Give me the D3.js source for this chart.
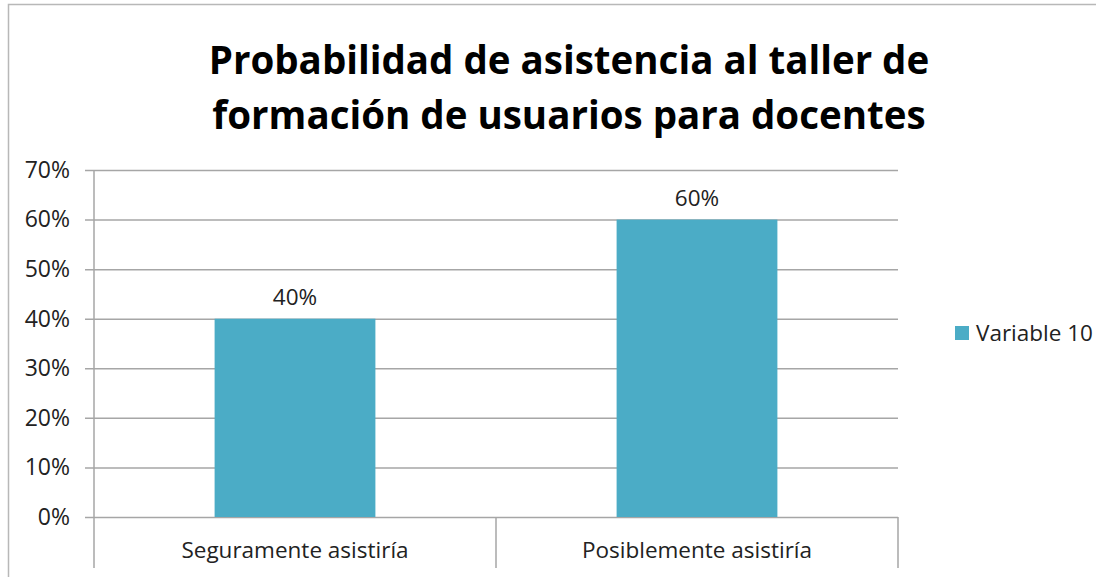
<!DOCTYPE html>
<html>
<head>
<meta charset="utf-8">
<script src="https://cdn.jsdelivr.net/npm/d3@7"></script>
<style>
  body { margin: 0; background: #fff; }
  text { font-family: "Open Sans", sans-serif; fill: #222; }
</style>
</head>
<body>
<div id="chart"></div>
<script>
var svgWidth = 1096;
var svgHeight = 577;

// data
var categories = ["Seguramente asistiría", "Posiblemente asistiría"];
var values = [0.40, 0.60];
var seriesName = "Variable 10";
var titleLines = ["Probabilidad de asistencia al taller de", "formación de usuarios para docentes"];
var yTicks = [0, 0.1, 0.2, 0.3, 0.4, 0.5, 0.6, 0.7];

var margin = { top: 170, left: 94, right: 198, bottom: 60 };
var width = svgWidth - margin.left - margin.right;
var height = 517 - margin.top;

var svg = d3.select("#chart")
  .append("svg")
  .attr("width", svgWidth)
  .attr("height", svgHeight);

// outer frame
svg.append("rect")
  .attr("x", 8.5)
  .attr("y", 4.5)
  .attr("width", 1200)
  .attr("height", 700)
  .attr("fill", "none")
  .attr("stroke", "#b8b8b8")
  .attr("stroke-width", 1.5);

// title
svg.selectAll(".title")
  .data(titleLines)
  .enter()
  .append("text")
  .attr("class", "title")
  .attr("x", 569)
  .attr("y", (d, i) => 74 + i * 55)
  .attr("text-anchor", "middle")
  .style("font-size", "38.5px")
  .style("font-weight", "bold")
  .style("fill", "#000")
  .text(d => d);

var chartGroup = svg.append("g")
  .attr("transform", `translate(${margin.left}, ${margin.top})`);

var xScale = d3.scaleBand()
  .domain(categories)
  .range([0, width])
  .paddingInner(0)
  .paddingOuter(0);

var yScale = d3.scaleLinear()
  .domain([0, 0.7])
  .range([height, 0]);

// gridlines with small ticks left of axis
var leftAxis = d3.axisLeft(yScale)
  .tickValues(yTicks)
  .tickFormat(d3.format(".0%"))
  .tickSize(-width - 9)
  .tickPadding(15);

var yAxisG = chartGroup.append("g")
  .attr("transform", "translate(-9, 0)")
  .call(leftAxis);
yAxisG.select(".domain").remove();
yAxisG.selectAll("line")
  .attr("stroke", "#a6a6a6")
  .attr("stroke-width", 1.5);
yAxisG.selectAll("text")
  .style("font-size", "23px")
  .style("font-family", "'Open Sans', sans-serif")
  .attr("fill", "#222");

// vertical axis line
chartGroup.append("line")
  .attr("x1", 0).attr("x2", 0)
  .attr("y1", 0).attr("y2", height + 51)
  .attr("stroke", "#a6a6a6")
  .attr("stroke-width", 1.5);

// category separators
chartGroup.selectAll(".sep")
  .data(categories)
  .enter()
  .append("line")
  .attr("class", "sep")
  .attr("x1", d => xScale(d) + xScale.bandwidth())
  .attr("x2", d => xScale(d) + xScale.bandwidth())
  .attr("y1", height)
  .attr("y2", height + 51)
  .attr("stroke", "#a6a6a6")
  .attr("stroke-width", 1.5);

// bars
var barW = xScale.bandwidth() * 0.4;
chartGroup.selectAll(".bar")
  .data(values)
  .enter()
  .append("rect")
  .attr("class", "bar")
  .attr("x", (d, i) => xScale(categories[i]) + (xScale.bandwidth() - barW) / 2)
  .attr("y", d => yScale(d))
  .attr("width", barW)
  .attr("height", d => height - yScale(d))
  .attr("fill", "#4bacc6");

// data labels
chartGroup.selectAll(".lbl")
  .data(values)
  .enter()
  .append("text")
  .attr("class", "lbl")
  .attr("x", (d, i) => xScale(categories[i]) + xScale.bandwidth() / 2)
  .attr("y", d => yScale(d) - 14)
  .attr("text-anchor", "middle")
  .style("font-size", "22.5px")
  .text(d => d3.format(".0%")(d));

// category labels
chartGroup.selectAll(".cat")
  .data(categories)
  .enter()
  .append("text")
  .attr("class", "cat")
  .attr("x", d => xScale(d) + xScale.bandwidth() / 2)
  .attr("y", height + 41)
  .attr("text-anchor", "middle")
  .style("font-size", "22.5px")
  .text(d => d);

// legend
var legend = svg.append("g")
  .attr("transform", "translate(955, 326)");
legend.append("rect")
  .attr("width", 14)
  .attr("height", 14)
  .attr("fill", "#4bacc6");
legend.append("text")
  .attr("x", 21)
  .attr("y", 15)
  .style("font-size", "22.5px")
  .text(seriesName);
</script>
</body>
</html>
